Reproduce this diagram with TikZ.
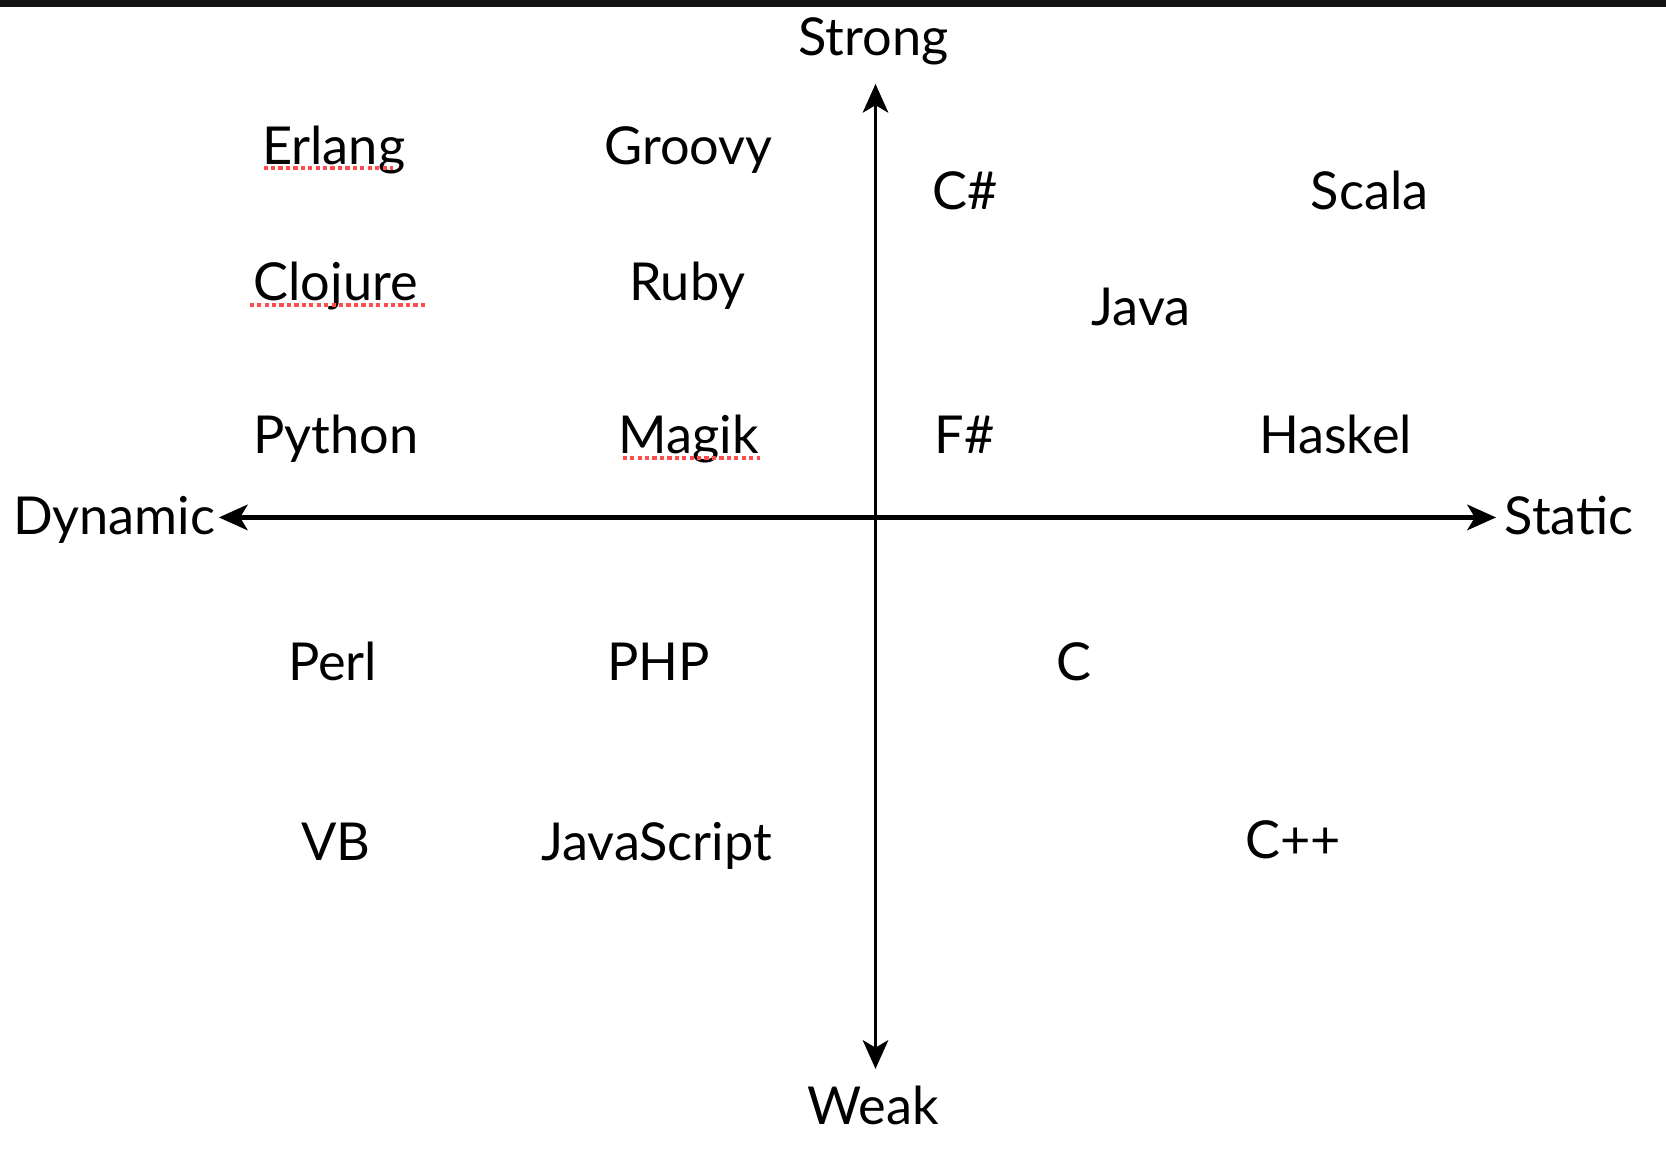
\documentclass[tikz,border=0pt]{standalone}
\usepackage{fontspec}
\setmainfont{Lato}
\usetikzlibrary{arrows.meta}
\definecolor{spell}{HTML}{FF4D4D}
\begin{document}
\begin{tikzpicture}[x=0.5pt,y=-0.5pt,
  lang/.style={anchor=base,inner sep=0pt,font=\fontsize{24.6}{30}\selectfont},
  axis/.style={-{Stealth[length=13.5pt,width=12pt,inset=3.5pt]}},
  spellmark/.style={spell,line width=1.6pt,dash pattern=on 2pt off 1.5pt}]
\useasboundingbox (0,0) rectangle (1568,1090);
\fill[black!93] (0,0) rectangle (1568,6.5);
% axes
\coordinate (o) at (824,487);
\coordinate (up) at (824,79);
\coordinate (down) at (824,1006);
\coordinate (left) at (206,487);
\coordinate (right) at (1408,487);
\draw[axis,line width=1.5pt] (o) -- (up);
\draw[axis,line width=1.5pt] (o) -- (down);
\draw[axis,line width=2pt] (o) -- (left);
\draw[axis,line width=2pt] (o) -- (right);
% axis labels
\node[lang] (strong) at (822,52) {Strong};
\node[lang] (weak) at (822,1058) {Weak};
\node[lang,anchor=base east] (dynamic) at (203,503) {Dynamic};
\node[lang,anchor=base west] (static) at (1416,503) {Static};
% languages
\node[lang] (erlang) at (314,155) {Erlang};
\node[lang] (groovy) at (648,155) {Groovy};
\node[lang] (csharp) at (908,197) {C\#};
\node[lang] (scala) at (1289,197) {Scala};
\node[lang] (clojure) at (316,283) {Clojure};
\node[lang] (ruby) at (647,283) {Ruby};
\node[lang] (java) at (1074,306) {Java};
\node[lang] (python) at (316,427) {Python};
\node[lang] (magik) at (648,427) {Magik};
\node[lang] (fsharp) at (908,427) {F\#};
\node[lang] (haskel) at (1257,427) {Haskel};
\node[lang] (perl) at (313,640) {Perl};
\node[lang] (php) at (620,640) {PHP};
\node[lang] (c) at (1011,640) {C};
\node[lang] (vb) at (316,810) {VB};
\node[lang] (js) at (618,810) {JavaScript};
\node[lang] (cpp) at (1217,808) {C++};
% spell-check marks
\draw[spellmark] (248,158) -- (370,158);
\draw[spellmark] (235,287) -- (400,287);
\draw[spellmark] (586,431) -- (715,431);
\end{tikzpicture}
\end{document}
